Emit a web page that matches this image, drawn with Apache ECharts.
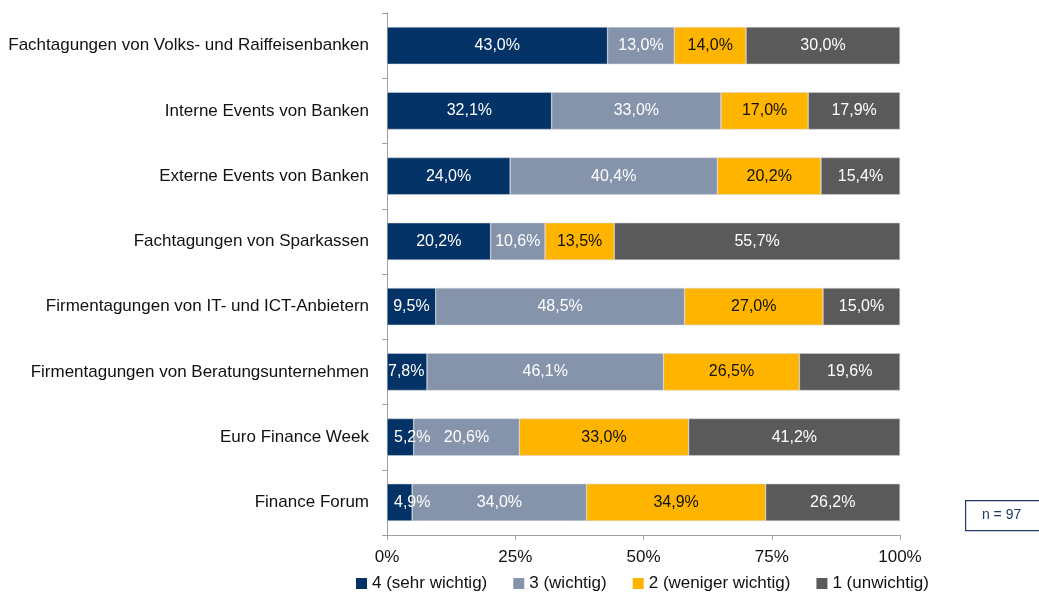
<!DOCTYPE html>
<html>
<head>
<meta charset="utf-8">
<script src="https://cdn.jsdelivr.net/npm/echarts@6/dist/echarts.min.js"></script>
<style>
  html, body { margin: 0; padding: 0; background: #fff; }
  #chart { width: 1039px; height: 596px; }
</style>
</head>
<body>
<div id="chart"></div>
<script>
// Daten (von oben nach unten)
var categories = [
  'Fachtagungen von Volks- und Raiffeisenbanken',
  'Interne Events von Banken',
  'Externe Events von Banken',
  'Fachtagungen von Sparkassen',
  'Firmentagungen von IT- und ICT-Anbietern',
  'Firmentagungen von Beratungsunternehmen',
  'Euro Finance Week',
  'Finance Forum'
];
var seriesNames = ['4 (sehr wichtig)', '3 (wichtig)', '2 (weniger wichtig)', '1 (unwichtig)'];
var sehrWichtig = [43.0, 32.1, 24.0, 20.2, 9.5, 7.8, 5.2, 4.9];
var wichtig = [13.0, 33.0, 40.4, 10.6, 48.5, 46.1, 20.6, 34.0];
var wenigerWichtig = [14.0, 17.0, 20.2, 13.5, 27.0, 26.5, 33.0, 34.9];
var unwichtig = [30.0, 17.9, 15.4, 55.7, 15.0, 19.6, 41.2, 26.2];
var xTicks = [0, 25, 50, 75, 100];

(function () {
  var myChart = echarts.init(document.getElementById('chart'));
  var colors = ['#033366', '#8593ab', '#ffb400', '#5a5a5a'];
  var labelColors = ['#ffffff', '#ffffff', '#111111', '#ffffff'];
  var values = [sehrWichtig, wichtig, wenigerWichtig, unwichtig];
  var font = 'Liberation Sans, Arial, sans-serif';

  var series = values.map(function (arr, i) {
    return {
      name: seriesNames[i],
      type: 'bar',
      stack: 'total',
      barWidth: '57%',
      // sehr schmale Balken: Beschriftung links beginnen lassen (wie im Original)
      data: arr.map(function (v) {
        if (i === 0 && v < 9) {
          return { value: v, label: { position: 'insideLeft', distance: v < 6 ? 7 : 1 } };
        }
        return v;
      }),
      itemStyle: { color: colors[i], borderColor: '#d0d4da', borderWidth: 0.5 },
      label: {
        show: true,
        position: 'inside',
        color: labelColors[i],
        fontFamily: font,
        fontSize: 16,
        formatter: function (p) {
          return p.value.toFixed(1).replace('.', ',') + '%';
        }
      }
    };
  });

  var option = {
    animation: false,
    color: colors,
    grid: { left: 387, right: 139, top: 13, bottom: 61, containLabel: false },
    legend: {
      bottom: -1,
      left: 351,
      itemWidth: 11,
      itemHeight: 11,
      itemGap: 26,
      icon: 'rect',
      itemStyle: { borderWidth: 0 },
      textStyle: { fontFamily: font, fontSize: 17, color: '#111' },
      data: seriesNames
    },
    xAxis: {
      type: 'value',
      min: xTicks[0],
      max: xTicks[xTicks.length - 1],
      interval: 25,
      splitLine: { show: false },
      axisLine: { show: true, lineStyle: { color: '#a0a0a0' } },
      axisTick: { show: true, length: 5, lineStyle: { color: '#a0a0a0' } },
      axisLabel: {
        fontFamily: font, fontSize: 17, color: '#111', margin: 14,
        formatter: '{value}%'
      }
    },
    yAxis: {
      type: 'category',
      inverse: true,
      data: categories,
      axisLine: { show: true, lineStyle: { color: '#a0a0a0' } },
      axisTick: { show: true, length: 5, lineStyle: { color: '#a0a0a0' } },
      axisLabel: { fontFamily: font, fontSize: 17, color: '#111', margin: 18 }
    },
    graphic: [{
      type: 'group',
      left: 965,
      top: 500,
      children: [
        { type: 'rect', shape: { x: 0, y: 0, width: 80, height: 30 },
          style: { fill: '#fff', stroke: '#1f3a68', lineWidth: 1.2 } },
        { type: 'text', x: 36, y: 15,
          style: { text: 'n = 97', fontFamily: font, fontSize: 14, fill: '#1f3a68',
                   align: 'center', verticalAlign: 'middle' } }
      ]
    }],
    series: series
  };
  myChart.setOption(option);
})();
</script>
</body>
</html>
